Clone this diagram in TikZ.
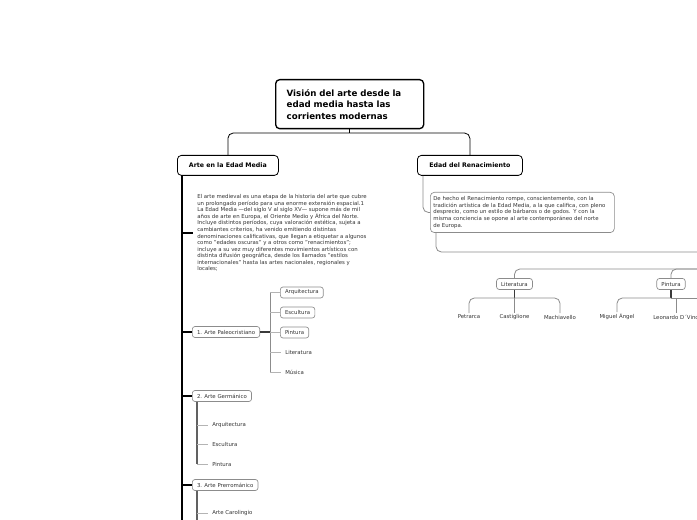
\documentclass[tikz,border=0pt]{standalone}
\usepackage{fontspec}
\setmainfont{DejaVu Sans}
\usepackage{xcolor}
\usetikzlibrary{calc,positioning}
\definecolor{mapLine}{HTML}{8C8C8C}
\definecolor{mapTick}{HTML}{B4B4B4}
\definecolor{mapDark}{HTML}{3A3A3A}
\definecolor{mapText}{HTML}{333333}
\newcommand\rootfont{\fontsize{6.5pt}{8.6pt}\selectfont\bfseries}
\newcommand\topicfont{\fontsize{4.7pt}{6pt}\selectfont\bfseries}
\newcommand\leaffont{\fontsize{4.05pt}{4.9pt}\selectfont}

\begin{document}
\begin{tikzpicture}[
  x=0.75pt, y=-0.75pt,
  rootbox/.style={draw, line width=1pt, rounded corners=3pt, align=left,
                  font=\rootfont, text width=94.5pt, inner xsep=8.25pt,
                  minimum width=111pt, minimum height=36.75pt, anchor=north west},
  topicbox/.style={draw, line width=0.6pt, rounded corners=3pt, font=\topicfont,
                   minimum height=15pt, anchor=north west},
  notebox/.style={draw=mapLine, line width=0.5pt, rounded corners=3pt, align=left,
                  font=\leaffont, text=mapText, text width=133.5pt, inner xsep=2.25pt,
                  minimum height=27.75pt, anchor=north west},
  subbox/.style={draw=mapLine, line width=0.5pt, rounded corners=2pt, font=\leaffont,
                 text=mapText, inner xsep=3.5pt, minimum height=8.25pt, inner ysep=1pt},
  leaf/.style={font=\leaffont, text=mapText, inner xsep=3pt, inner ysep=1.2pt},
  spine/.style={line width=1.5pt, black},
  trunk/.style={line width=1.2pt, mapDark},
  link/.style={line width=0.6pt, mapLine, rounded corners=4pt},
  tick/.style={line width=0.6pt, mapTick}
]
\clip (0,0) rectangle (697,520);

% raiz
\node[rootbox] (root) at (275,79) {Visión del arte desde la\\edad media hasta las\\corrientes modernas};
\node[topicbox, minimum width=75.75pt] (medieval) at (177,155) {Arte en la Edad Media};
\node[topicbox, minimum width=78.75pt] (renac) at (417,155) {Edad del Renacimiento};

\coordinate (fork) at (root.south |- 0,133);
\draw[line width=0.6pt] (root.south) -- (fork);
\draw[line width=0.6pt, rounded corners=4pt] (fork) -| (medieval.north);
\draw[line width=0.6pt, rounded corners=4pt] (fork) -| (renac.north);

% Edad Media
\coordinate (spinetop) at ($(medieval.south west)+(5,0)$);
\coordinate (spinebottom) at (spinetop |- 0,530);
\draw[spine] (spinetop) -- (spinebottom);

\node[leaf, anchor=west, align=left, inner xsep=3pt] (medtext) at (193,233)
  {El arte medieval es una etapa de la historia del arte que cubre\\
   un prolongado período para una enorme extensión espacial.1\\
   La Edad Media ---del siglo V al siglo XV--- supone más de mil\\
   años de arte en Europa, el Oriente Medio y África del Norte.\\
   Incluye distintos períodos, cuya valoración estética, sujeta a\\
   cambiantes criterios, ha venido emitiendo distintas\\
   denominaciones calificativas, que llegan a etiquetar a algunos\\
   como "edades oscuras" y a otros como "renacimientos";\\
   incluye a su vez muy diferentes movimientos artísticos con\\
   distinta difusión geográfica, desde los llamados "estilos\\
   internacionales" hasta las artes nacionales, regionales y\\
   locales;};
\draw[spine, line width=1pt] (spinetop |- medtext.west) -- (medtext.west);

% 1. Arte Paleocristiano
\node[subbox, anchor=west] (paleo) at (192,332) {1. Arte Paleocristiano};
\node[subbox, anchor=west] (paleoarq) at (280,292.5) {Arquitectura};
\node[subbox, anchor=west] (paleoesc) at (280,312.5) {Escultura};
\node[subbox, anchor=west] (paleopin) at (280,332.5) {Pintura};
\node[leaf, anchor=west] (paleolit) at (281,352) {Literatura};
\node[leaf, anchor=west] (paleomus) at (281,372) {Música};
\draw[spine, line width=1pt] (spinetop |- paleo.west) -- (paleo.west);
\coordinate (paleofork) at (270,332);
\draw[trunk] (paleo.east) -- (paleofork);
\draw[line width=0.7pt, mapLine] (paleofork |- paleoarq.west) -- (paleofork |- paleomus.west);
\foreach \n in {paleoarq,paleoesc,paleopin,paleolit,paleomus}
  \draw[tick] (paleofork |- \n.west) -- (\n.west);

% 2. Arte Germanico
\node[subbox, anchor=west] (germ) at (192,396) {2. Arte Germánico};
\node[leaf, anchor=west] (germarq) at (208,425) {Arquitectura};
\node[leaf, anchor=west] (germesc) at (208,444) {Escultura};
\node[leaf, anchor=west] (germpin) at (208,464) {Pintura};
\draw[spine, line width=1pt] (spinetop |- germ.west) -- (germ.west);
\coordinate (germfork) at ($(germ.south west)+(5,0)$);
\draw[line width=0.8pt, mapDark!80] (germfork) -- (germfork |- germpin.west);
\foreach \n in {germarq,germesc,germpin}
  \draw[tick] (germfork |- \n.west) -- (\n.west);

% 3. Arte Prerromanico
\node[subbox, anchor=west] (prerom) at (192,485) {3. Arte Prerrománico};
\node[leaf, anchor=west] (carol) at (208,513) {Arte Carolingio};
\draw[spine, line width=1pt] (spinetop |- prerom.west) -- (prerom.west);
\coordinate (preromfork) at ($(prerom.south west)+(5,0)$);
\draw[line width=0.8pt, mapDark!80] (preromfork) -- (preromfork |- spinebottom);
\draw[tick] (preromfork |- carol.west) -- (carol.west);

% Renacimiento
\node[notebox] (renpara) at (430,192)
  {De hecho el Renacimiento rompe, conscientemente, con la\\
   tradición artística de la Edad Media, a la que califica, con pleno\\
   desprecio, como un estilo de bárbaros o de godos. Y con la\\
   misma conciencia se opone al arte contemporáneo del norte\\
   de Europa.};
\coordinate (renactop) at ($(renac.south west)+(6,0)$);
\draw[link] (renactop) |- (renpara.west);
\coordinate (renout) at (710,252);
\draw[link] ($(renpara.south west)+(6,0)$) |- (renout);

\node[subbox] (lit) at (514.5,284) {Literatura};
\node[subbox] (pin) at (671,284) {Pintura};
\coordinate (litout) at (710,269);
\draw[link] (lit.north) |- (litout);
\draw[link] (pin.north) |- (litout);

\node[leaf] (petrarca) at (469,317) {Petrarca};
\node[leaf] (castig) at (514.5,317) {Castiglione};
\node[leaf] (machia) at (560,317) {Machiavello};
\coordinate (litfork) at (lit.south |- 0,298);
\draw[trunk] (lit.south) -- (litfork);
\draw[link] (litfork) -| (petrarca.north);
\draw[link] (litfork) -| (machia.north);
\draw[link] (litfork) -- (castig.north);

\node[leaf] (miguel) at (617,317) {Miguel Ángel};
\node[leaf, anchor=west] (leonardo) at (649,317) {Leonardo D´Vinci};
\coordinate (pinfork) at (pin.south |- 0,298);
\coordinate (pinout) at (710,298);
\draw[trunk] (pin.south) -- (pinfork);
\draw[link] (pinfork) -| (miguel.north);
\draw[link] (pinfork) -- (pinout);
\draw[link] (leonardo.north -| 676,0) -- (676,298);
\end{tikzpicture}
\end{document}
